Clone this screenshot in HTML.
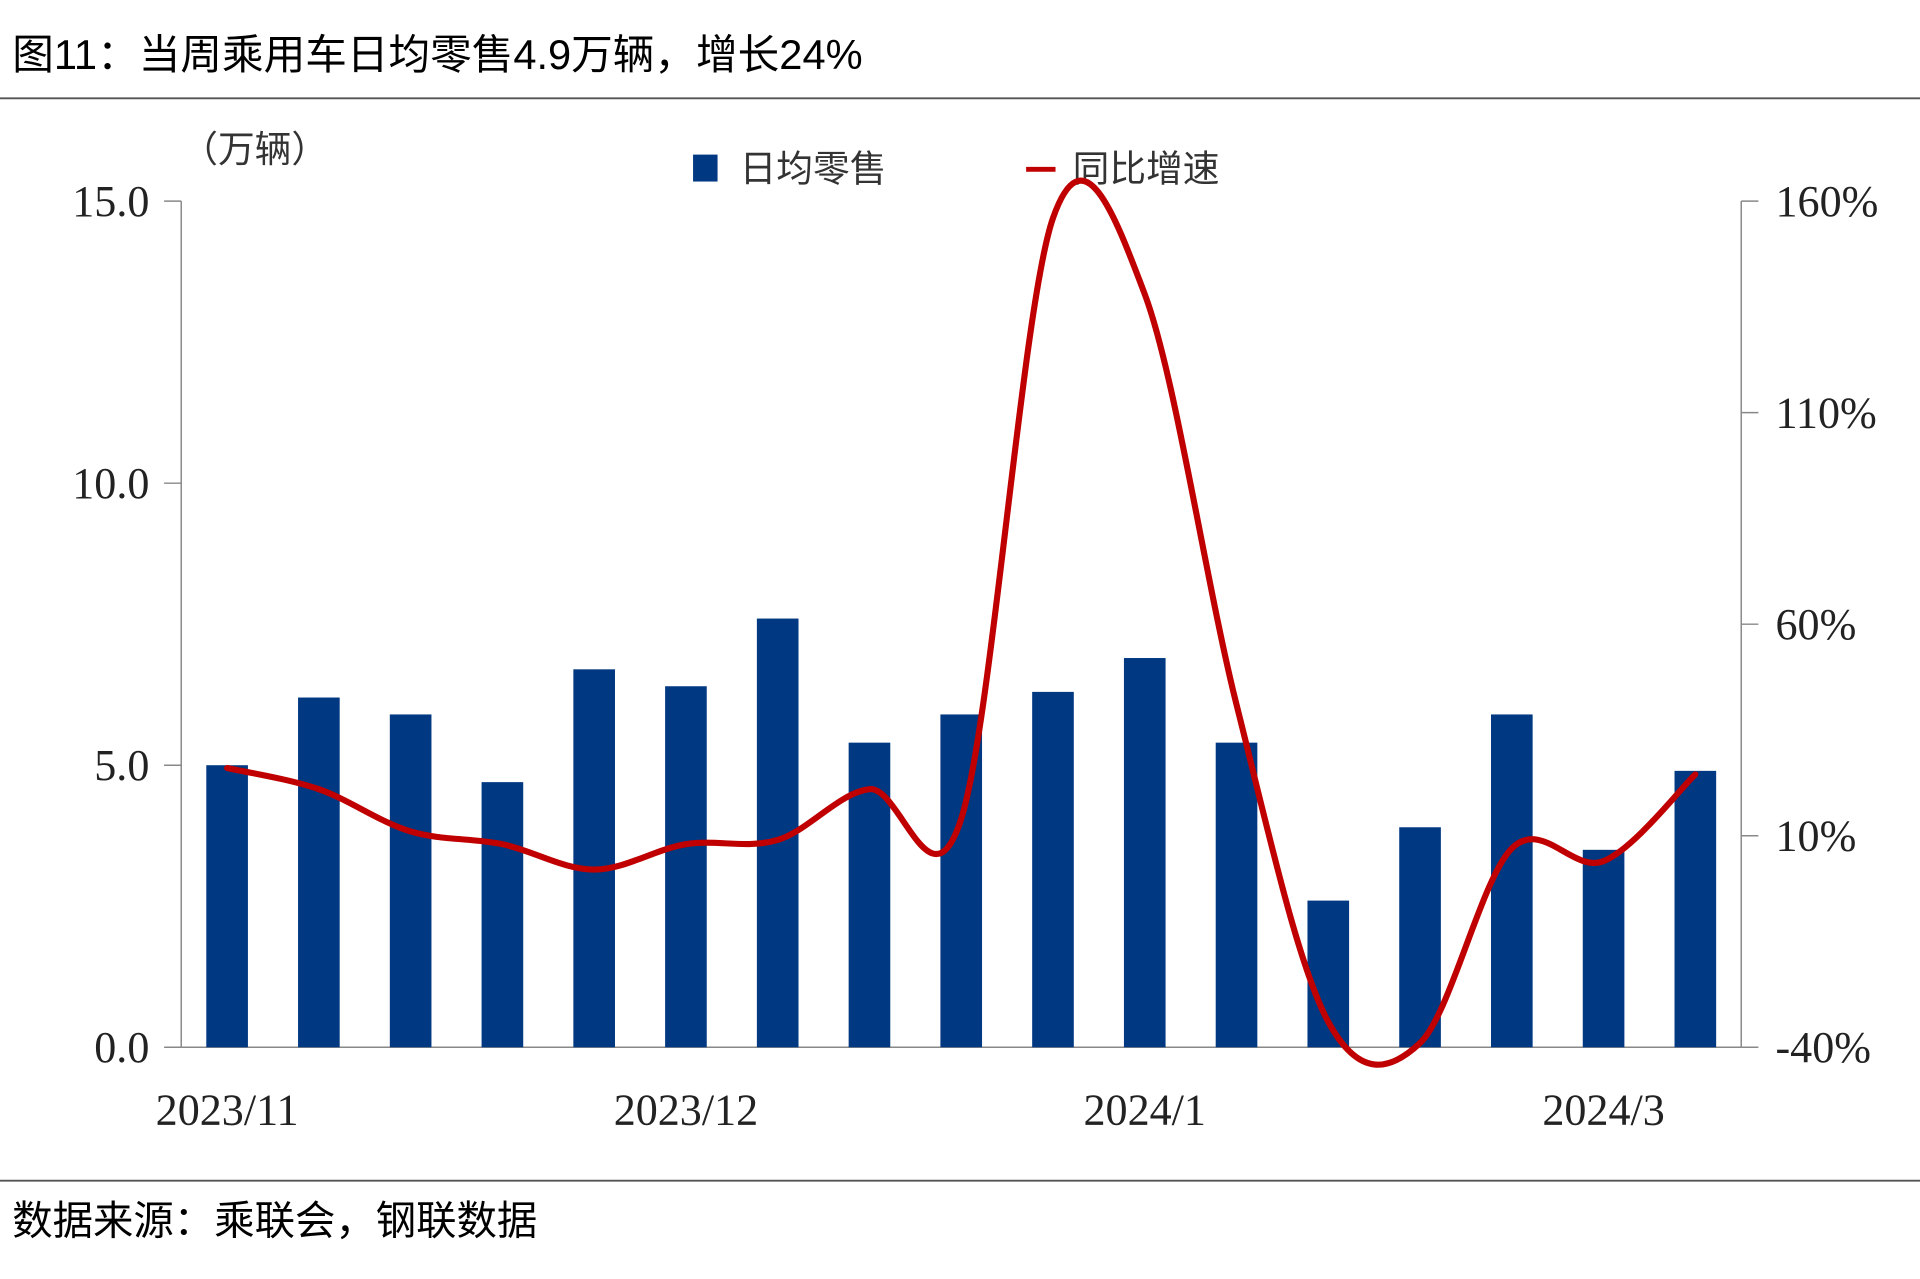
<!DOCTYPE html>
<html><head><meta charset="utf-8"><style>
html,body{margin:0;padding:0;background:#fff;}
svg{display:block;}
text{font-family:"Liberation Serif","Noto Serif CJK SC",serif;}
.cjk{font-family:"Liberation Sans","Noto Sans CJK SC",sans-serif;}
</style></head><body>
<svg id="chart" width="1920" height="1279" viewBox="0 0 1568 1044">
<text class="cjk" x="10" y="56" font-size="34" fill="#000">图11：当周乘用车日均零售4.9万辆，增长24%</text>
<line x1="0" y1="80" x2="1568" y2="80" stroke="#555" stroke-width="1.5"/>
<line x1="0" y1="964" x2="1568" y2="964" stroke="#555" stroke-width="1.5"/>
<text class="cjk" x="10" y="1008" font-size="33" fill="#000">数据来源：乘联会，钢联数据</text>
<text class="cjk" x="148" y="132" font-size="30" fill="#333">（万辆）</text>
<g>
<rect x="566" y="126" width="20" height="22" fill="#003882"/>
<text class="cjk" x="604" y="148" font-size="30" fill="#333">日均零售</text>
<line x1="838" y1="138" x2="862" y2="138" stroke="#c00000" stroke-width="4"/>
<text class="cjk" x="876" y="148" font-size="30" fill="#333">同比增速</text>
</g>
<g id="axes"></g>
<g id="bars"></g>
<g id="line"></g>
</svg>
<script>
const categories=["w1","w2","w3","w4","w5","w6","w7","w8","w9","w10","w11","w12","w13","w14","w15","w16","w17"];
const salesValues=[5.0,6.2,5.9,4.7,6.7,6.4,7.6,5.4,5.9,6.3,6.9,5.4,2.6,3.9,5.9,3.5,4.9];
const growthValues=[26,21,11,8,2,8,9,21,14,156,138,41,-34,-39,7,4,24.5];
const leftTicks=[0,5,10,15];
const leftTickLabels=["0.0","5.0","10.0","15.0"];
const rightTicks=[-40,10,60,110,160];
const rightTickLabels=["-40%","10%","60%","110%","160%"];
const xLabelIdx=[0,5,10,15];
const xLabels=["2023/11","2023/12","2024/1","2024/3"];
const NS="http://www.w3.org/2000/svg";
const X0=148,X1=1422,Y0=855,Y1=164;
const step=(X1-X0)/categories.length;
const xC=i=>X0+step*(i+0.5);
const yL=v=>Y0-(v-0)/(15-0)*(Y0-Y1);
const yR=v=>Y0-(v+40)/(200)*(Y0-Y1);
function mk(tag,attrs,parent){const e=document.createElementNS(NS,tag);for(const k in attrs)e.setAttribute(k,attrs[k]);parent.appendChild(e);return e;}
const axes=document.getElementById('axes');
let a=mk('line',{x1:X0,y1:Y1,x2:X0,y2:Y0,stroke:'#888','stroke-width':1.2},axes);


a=mk('line',{x1:X1,y1:Y1,x2:X1,y2:Y0,stroke:'#888','stroke-width':1.2},axes);


a=mk('line',{x1:X0,y1:Y0,x2:X1,y2:Y0,stroke:'#888','stroke-width':1.2},axes);


leftTicks.forEach((v,i)=>{
 const t=mk('line',{x1:X0-14,y1:yL(v),x2:X0,y2:yL(v),stroke:'#888','stroke-width':1.2},axes);
 
 
 const l=mk('text',{x:X0-26,y:yL(v)+12,'text-anchor':'end','font-size':36,fill:'#222'},axes);
 l.textContent=leftTickLabels[i];
 
 
});
rightTicks.forEach((v,i)=>{
 const t=mk('line',{x1:X1,y1:yR(v),x2:X1+14,y2:yR(v),stroke:'#888','stroke-width':1.2},axes);
 
 
 const l=mk('text',{x:X1+28,y:yR(v)+12,'font-size':36,fill:'#222'},axes);
 l.textContent=rightTickLabels[i];
 
 
});
xLabelIdx.forEach((idx,i)=>{
 const l=mk('text',{x:xC(idx),y:918,'text-anchor':'middle','font-size':36,fill:'#222'},axes);
 l.textContent=xLabels[i];
 
 
});
const bars=document.getElementById('bars');
salesValues.forEach((v,i)=>{
 const r=mk('rect',{x:xC(i)-17,y:yL(v),width:34,height:Y0-yL(v),fill:'#003882'},bars);
 
 
});
const pts=growthValues.map((v,i)=>[xC(i),yR(v)]);
let d='M'+pts[0][0]+','+pts[0][1];
for(let i=0;i<pts.length-1;i++){
 const p0=pts[i-1]||pts[i],p1=pts[i],p2=pts[i+1],p3=pts[i+2]||p2;
 const c1=[p1[0]+(p2[0]-p0[0])/6,p1[1]+(p2[1]-p0[1])/6];
 const c2=[p2[0]-(p3[0]-p1[0])/6,p2[1]-(p3[1]-p1[1])/6];
 d+=` C${c1[0]},${c1[1]} ${c2[0]},${c2[1]} ${p2[0]},${p2[1]}`;
}
const path=mk('path',{d:d,fill:'none',stroke:'#c00000','stroke-width':5,'stroke-linecap':'round','stroke-linejoin':'round'},document.getElementById('line'));


</script>
</body></html>
